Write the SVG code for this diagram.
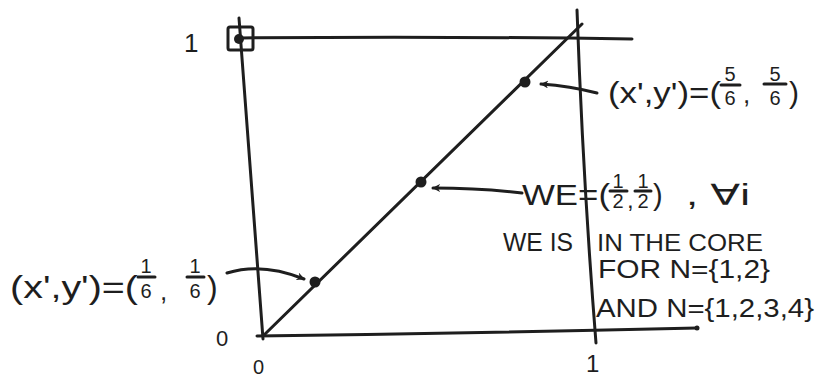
<svg xmlns="http://www.w3.org/2000/svg" width="817" height="381" viewBox="0 0 817 381">
<style>
.ln{stroke:#1e1e1e;stroke-width:3;fill:none;stroke-linecap:round;stroke-linejoin:round}
.t{font-family:"Liberation Sans","DejaVu Sans",sans-serif;fill:#1e1e1e}
.fr{font-family:"Liberation Sans","DejaVu Sans",sans-serif;fill:#1e1e1e;font-size:20px;text-anchor:middle}
.dot{fill:#1e1e1e}
</style>
<defs>
<marker id="ah" viewBox="0 0 10 10" refX="9" refY="5" markerWidth="8" markerHeight="8" orient="auto" markerUnits="userSpaceOnUse">
<path d="M0,0 L10,5 L0,10 L3,5 Z" fill="#1e1e1e"/>
</marker>
</defs>
<rect width="817" height="381" fill="#fff"/>
<g id="axes">
<path class="ln" d="M239,18 L263,339"/>
<path class="ln" d="M241,38 Q430,36 632,39"/>
<path class="ln" d="M577,10 Q583,180 596,343"/>
<path class="ln" d="M257,336 Q480,333 697,328"/>
<circle class="dot" cx="697" cy="328" r="2.5"/>
<path class="ln" d="M263,336 L582,24"/>
<rect class="ln" x="228" y="27" width="25" height="23" rx="2"/>
<circle class="dot" cx="239" cy="39" r="5"/>
</g>
<g id="ticks">
<text class="t" x="184" y="52" font-size="26">1</text>
<text class="t" x="216" y="346" font-size="22">0</text>
<text class="t" x="253" y="374" font-size="20">0</text>
<text class="t" x="586" y="372" font-size="24">1</text>
</g>
<g id="points">
<circle class="dot" cx="315" cy="282" r="5.5"/>
<circle class="dot" cx="421" cy="182" r="5.5"/>
<circle class="dot" cx="525" cy="82" r="5.5"/>
</g>
<g id="connectors">
<path class="ln" d="M597,93 Q570,86 541,84" marker-end="url(#ah)"/>
<path class="ln" d="M522,193 Q480,188 433,188" marker-end="url(#ah)"/>
<path class="ln" d="M227,273 Q262,262 304,279" marker-end="url(#ah)"/>
</g>
<g id="label-56">
<text class="t" x="608" y="103" font-size="30" textLength="113" lengthAdjust="spacingAndGlyphs">(x',y')=(</text>
<text class="fr" x="730" y="81">5</text>
<line class="ln" x1="721" y1="85" x2="740" y2="85" stroke-width="2"/>
<text class="fr" x="730" y="105">6</text>
<text class="t" x="743" y="103" font-size="26">,</text>
<text class="fr" x="775" y="81">5</text>
<line class="ln" x1="764" y1="84" x2="786" y2="84" stroke-width="2"/>
<text class="fr" x="775" y="105">6</text>
<text class="t" x="789" y="103" font-size="30">)</text>
</g>
<g id="label-we">
<text class="t" x="522" y="205" font-size="29" textLength="88" lengthAdjust="spacingAndGlyphs">WE=(</text>
<text class="fr" x="618" y="188">1</text>
<line class="ln" x1="610" y1="191" x2="627" y2="191" stroke-width="2"/>
<text class="fr" x="618" y="208">2</text>
<text class="t" x="627" y="208" font-size="24">,</text>
<text class="fr" x="643" y="188">1</text>
<line class="ln" x1="635" y1="191" x2="651" y2="191" stroke-width="2"/>
<text class="fr" x="643" y="208">2</text>
<text class="t" x="653" y="205" font-size="29">)</text>
<text class="t" x="686" y="205" font-size="29" textLength="64" lengthAdjust="spacingAndGlyphs">, ∀i</text>
</g>
<g id="label-core">
<text class="t" x="503" y="251" font-size="26" textLength="70" lengthAdjust="spacingAndGlyphs">WE IS</text>
<text class="t" x="597" y="251" font-size="24" textLength="166" lengthAdjust="spacingAndGlyphs">IN THE CORE</text>
<text class="t" x="598" y="278" font-size="25" textLength="172" lengthAdjust="spacingAndGlyphs">FOR N={1,2}</text>
<text class="t" x="596" y="317" font-size="25" textLength="218" lengthAdjust="spacingAndGlyphs">AND N={1,2,3,4}</text>
</g>
<g id="label-16">
<text class="t" x="10" y="298" font-size="32" textLength="128" lengthAdjust="spacingAndGlyphs">(x',y')=(</text>
<text class="fr" x="146" y="273">1</text>
<line class="ln" x1="138" y1="277" x2="155" y2="277" stroke-width="2"/>
<text class="fr" x="146" y="298">6</text>
<text class="t" x="160" y="300" font-size="26">,</text>
<text class="fr" x="195" y="273">1</text>
<line class="ln" x1="187" y1="277" x2="204" y2="277" stroke-width="2"/>
<text class="fr" x="195" y="298">6</text>
<text class="t" x="207" y="298" font-size="32">)</text>
</g>
</svg>
